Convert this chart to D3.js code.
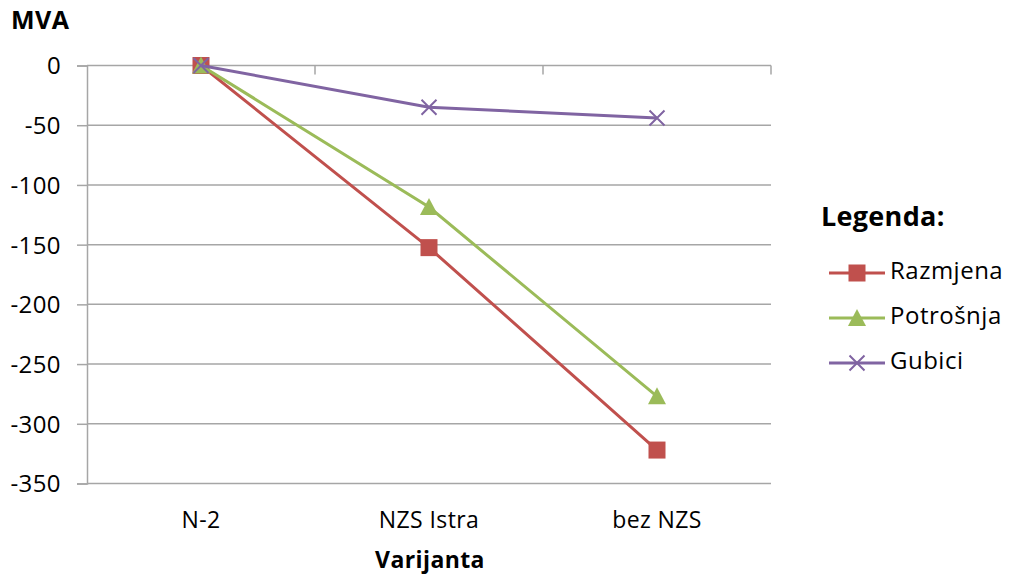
<!DOCTYPE html>
<html>
<head>
<meta charset="utf-8">
<script src="https://cdn.jsdelivr.net/npm/d3@7"></script>
<style>
  body { margin: 0; background: #fff; }
  svg text { font-family: "Open Sans", Lato, sans-serif; fill: #000; }
</style>
</head>
<body>
<div id="chart"></div>
<script>
const categories = ['N-2', 'NZS Istra', 'bez NZS'];
const razmjena = [0, -152.5, -322];
const potrosnja = [0, -118.5, -277];
const gubici = [0, -35, -44];
const yTicks = [0, -50, -100, -150, -200, -250, -300, -350];

const series = [
    {name: 'Razmjena', values: razmjena, color: '#C0504D', marker: 'square'},
    {name: 'Potrošnja', values: potrosnja, color: '#9BBB59', marker: 'triangle'},
    {name: 'Gubici', values: gubici, color: '#8064A2', marker: 'x'},
];

const width = 1009, height = 578;
const plotLeft = 87, plotRight = 771, plotTop = 65.5, plotBottom = 483.5;

const svg = d3.select('#chart').append('svg')
    .attr('width', width)
    .attr('height', height);

const x = d3.scaleBand().domain(categories).range([plotLeft, plotRight]);
const y = d3.scaleLinear().domain([-350, 0]).range([plotBottom, plotTop]);

const gridColor = '#a6a6a6';

// horizontal gridlines
svg.append('g').selectAll('line')
    .data(yTicks)
    .join('line')
    .attr('x1', plotLeft)
    .attr('x2', plotRight)
    .attr('y1', d => y(d))
    .attr('y2', d => y(d))
    .attr('stroke', gridColor)
    .attr('stroke-width', 1.5);

// y axis (hyphen minus like the original, not the unicode one)
const yAxis = svg.append('g')
    .attr('transform', `translate(${plotLeft},0)`)
    .call(d3.axisLeft(y).tickValues(yTicks).tickSize(10).tickPadding(16).tickFormat(d => String(d)));
yAxis.select('.domain').attr('stroke', gridColor).attr('stroke-width', 1.5);
yAxis.selectAll('.tick line').attr('stroke', gridColor).attr('stroke-width', 1.5);
yAxis.selectAll('.tick text')
    .attr('font-size', 24)
    .attr('letter-spacing', 0.4)
    .attr('fill', '#000')
    .attr('dy', '0.35em');

// category axis sits at 0, with boundary ticks pointing down
const boundaries = categories.map(c => x(c) + x.bandwidth());
svg.append('g').selectAll('line')
    .data(boundaries)
    .join('line')
    .attr('x1', d => d)
    .attr('x2', d => d)
    .attr('y1', y(0))
    .attr('y2', y(0) + 9)
    .attr('stroke', gridColor)
    .attr('stroke-width', 1.5);

// category labels at the bottom
svg.append('g').selectAll('text')
    .data(categories)
    .join('text')
    .attr('x', d => x(d) + x.bandwidth() / 2)
    .attr('y', 522)
    .attr('text-anchor', 'middle')
    .attr('dominant-baseline', 'middle')
    .attr('font-size', 23)
    .attr('letter-spacing', 0.4)
    .text(d => d);

svg.append('text')
    .attr('x', (plotLeft + plotRight) / 2 + 1)
    .attr('y', 562)
    .attr('text-anchor', 'middle')
    .attr('dominant-baseline', 'middle')
    .attr('font-size', 23)
    .attr('font-weight', 'bold')
    .attr('letter-spacing', 0.4)
    .text('Varijanta');

svg.append('text')
    .attr('x', 11)
    .attr('y', 22)
    .attr('dominant-baseline', 'middle')
    .attr('font-size', 25)
    .attr('font-weight', 'bold')
    .attr('letter-spacing', 0.5)
    .text('MVA');

function drawMarker(g, type, cx, cy, color) {
    if (type === 'square') {
        g.append('rect')
            .attr('x', cx - 8.5).attr('y', cy - 8.5)
            .attr('width', 17).attr('height', 17)
            .attr('fill', color);
    } else if (type === 'triangle') {
        g.append('path')
            .attr('d', `M${cx},${cy - 9}L${cx + 9},${cy + 8}L${cx - 9},${cy + 8}Z`)
            .attr('fill', color);
    } else {
        g.append('path')
            .attr('d', `M${cx - 7.5},${cy - 7.5}L${cx + 7.5},${cy + 7.5}M${cx - 7.5},${cy + 7.5}L${cx + 7.5},${cy - 7.5}`)
            .attr('stroke', color)
            .attr('stroke-width', 2)
            .attr('fill', 'none');
    }
}

const line = d3.line()
    .x((d, i) => x(categories[i]) + x.bandwidth() / 2)
    .y(d => y(d));

series.forEach(s => {
    const g = svg.append('g');
    g.append('path')
        .datum(s.values)
        .attr('d', line)
        .attr('fill', 'none')
        .attr('stroke', s.color)
        .attr('stroke-width', 3);
    s.values.forEach((v, i) => {
        drawMarker(g, s.marker, x(categories[i]) + x.bandwidth() / 2, y(v), s.color);
    });
});

// legend
const legend = svg.append('g');
legend.append('text')
    .attr('x', 821)
    .attr('y', 219)
    .attr('dominant-baseline', 'middle')
    .attr('font-size', 27)
    .attr('font-weight', 'bold')
    .attr('letter-spacing', 0.3)
    .text('Legenda:');

series.forEach((s, i) => {
    const ly = 273 + i * 45;
    legend.append('line')
        .attr('x1', 829).attr('x2', 885)
        .attr('y1', ly).attr('y2', ly)
        .attr('stroke', s.color)
        .attr('stroke-width', 3);
    drawMarker(legend, s.marker, 857, ly, s.color);
    legend.append('text')
        .attr('x', 890)
        .attr('y', ly)
        .attr('dominant-baseline', 'middle')
        .attr('font-size', 24)
        .attr('letter-spacing', 0.5)
        .text(s.name);
});
</script>
</body>
</html>
